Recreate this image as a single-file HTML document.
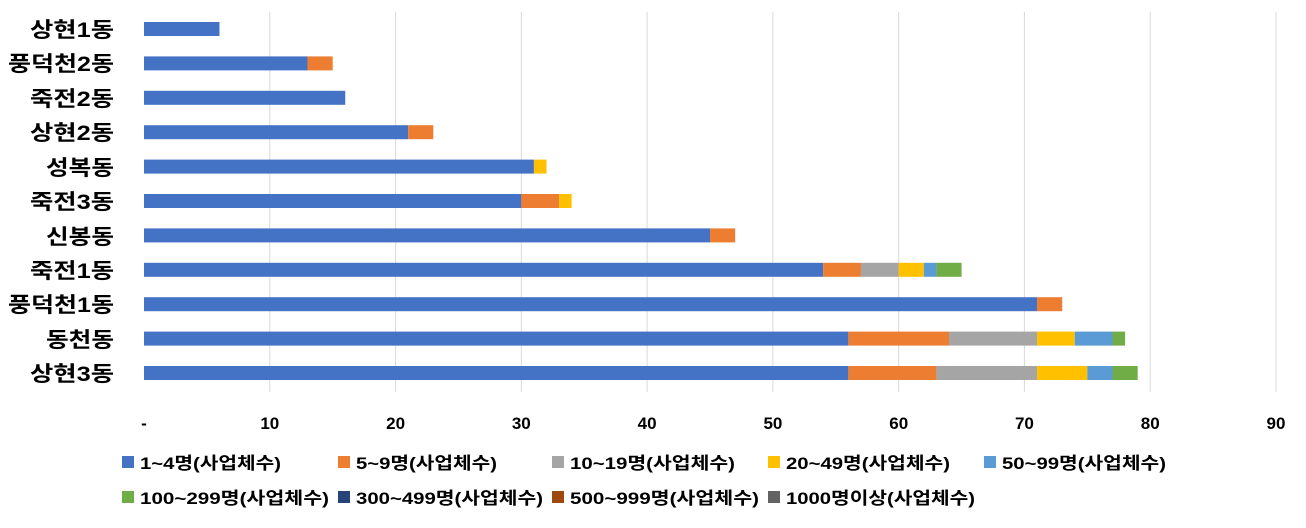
<!DOCTYPE html>
<html><head><meta charset="utf-8"><style>
body{margin:0;background:#fff}
svg text{font-family:"Liberation Sans","Noto Sans CJK KR",sans-serif}
</style></head><body>
<svg width="1306" height="523" xmlns="http://www.w3.org/2000/svg">
<g stroke="#d9d9d9" stroke-width="1">
<line x1="269.8" y1="12" x2="269.8" y2="392"/><line x1="395.6" y1="12" x2="395.6" y2="392"/>
<line x1="521.3" y1="12" x2="521.3" y2="392"/><line x1="647.1" y1="12" x2="647.1" y2="392"/>
<line x1="772.9" y1="12" x2="772.9" y2="392"/><line x1="898.7" y1="12" x2="898.7" y2="392"/>
<line x1="1024.4" y1="12" x2="1024.4" y2="392"/><line x1="1150.2" y1="12" x2="1150.2" y2="392"/>
<line x1="1276" y1="12" x2="1276" y2="392"/>
</g>
<g id="bars"></g>
<g font-size="21" font-weight="bold" fill="#000" lengthAdjust="spacingAndGlyphs">
<text x="30" y="37" textLength="84" lengthAdjust="spacingAndGlyphs">상현1동</text>
<text x="8" y="71" textLength="106" lengthAdjust="spacingAndGlyphs">풍덕천2동</text>
<text x="30" y="106" textLength="84" lengthAdjust="spacingAndGlyphs">죽전2동</text>
<text x="30" y="140" textLength="84" lengthAdjust="spacingAndGlyphs">상현2동</text>
<text x="46" y="175" textLength="68" lengthAdjust="spacingAndGlyphs">성복동</text>
<text x="30" y="209" textLength="84" lengthAdjust="spacingAndGlyphs">죽전3동</text>
<text x="46" y="244" textLength="68" lengthAdjust="spacingAndGlyphs">신봉동</text>
<text x="30" y="278" textLength="84" lengthAdjust="spacingAndGlyphs">죽전1동</text>
<text x="8" y="312" textLength="106" lengthAdjust="spacingAndGlyphs">풍덕천1동</text>
<text x="46" y="347" textLength="68" lengthAdjust="spacingAndGlyphs">동천동</text>
<text x="30" y="381" textLength="84" lengthAdjust="spacingAndGlyphs">상현3동</text>
</g>
<g font-size="17" font-weight="bold" text-anchor="middle" fill="#000">
<text x="144" y="429">-</text><text x="269.8" y="429">10</text><text x="395.6" y="429">20</text>
<text x="521.3" y="429">30</text><text x="647.1" y="429">40</text><text x="772.9" y="429">50</text>
<text x="898.7" y="429">60</text><text x="1024.4" y="429">70</text><text x="1150.2" y="429">80</text>
<text x="1276" y="429">90</text>
</g>
<g font-size="17" font-weight="bold" fill="#000">
<rect x="122" y="456" width="12" height="12" fill="#4472c4"/><text x="140" y="469" textLength="141" lengthAdjust="spacingAndGlyphs">1~4명(사업체수)</text>
<rect x="338" y="456" width="12" height="12" fill="#ed7d31"/><text x="356" y="469" textLength="141" lengthAdjust="spacingAndGlyphs">5~9명(사업체수)</text>
<rect x="552" y="456" width="12" height="12" fill="#a5a5a5"/><text x="570" y="469" textLength="165" lengthAdjust="spacingAndGlyphs">10~19명(사업체수)</text>
<rect x="768" y="456" width="12" height="12" fill="#ffc000"/><text x="786" y="469" textLength="164" lengthAdjust="spacingAndGlyphs">20~49명(사업체수)</text>
<rect x="984" y="456" width="12" height="12" fill="#5b9bd5"/><text x="1002" y="469" textLength="164" lengthAdjust="spacingAndGlyphs">50~99명(사업체수)</text>
<rect x="122" y="491" width="12" height="12" fill="#70ad47"/><text x="140" y="504" textLength="189" lengthAdjust="spacingAndGlyphs">100~299명(사업체수)</text>
<rect x="338" y="491" width="12" height="12" fill="#264478"/><text x="356" y="504" textLength="187" lengthAdjust="spacingAndGlyphs">300~499명(사업체수)</text>
<rect x="552" y="491" width="12" height="12" fill="#9e480e"/><text x="570" y="504" textLength="189" lengthAdjust="spacingAndGlyphs">500~999명(사업체수)</text>
<rect x="768" y="491" width="12" height="12" fill="#636363"/><text x="786" y="504" textLength="189" lengthAdjust="spacingAndGlyphs">1000명이상(사업체수)</text>
</g>
</svg>
<script>
var d=[[6],[13,2],[16],[21,2],[31,0,0,1],[30,3,0,1],[45,2],[54,3,3,2,1,2],[71,2],[56,8,7,3,3,1],[56,7,8,4,2,2]];
var c=["#4472c4","#ed7d31","#a5a5a5","#ffc000","#5b9bd5","#70ad47"];
var g=document.getElementById("bars"),s="",k=12.578;
d.forEach(function(r,i){var y=22+i*34.4,x=144;r.forEach(function(v,j){if(v>0){s+='<rect x="'+x+'" y="'+y+'" width="'+(v*k)+'" height="14" fill="'+c[j]+'"/>';}x+=v*k;});});
g.innerHTML=s;
</script>
</body></html>
